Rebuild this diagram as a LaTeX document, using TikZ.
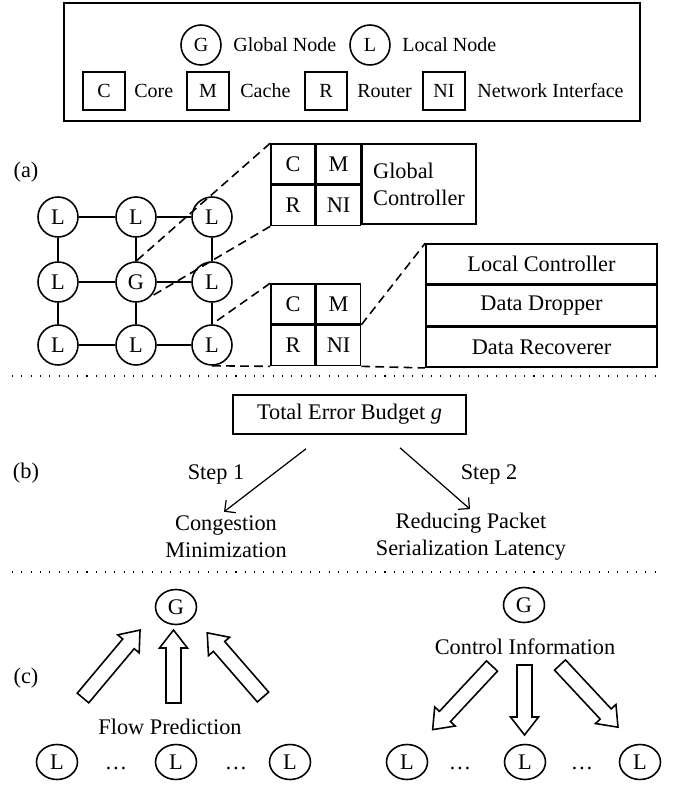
\documentclass[tikz,border=0pt]{standalone}
\usepackage{fontspec}
\setmainfont{Liberation Serif}
\usetikzlibrary{arrows.meta, calc, shapes.geometric}

\tikzset{
    nd/.style={draw, line width=0.9pt, circle, minimum size=0.8cm, inner sep=0pt},
    fnd/.style={draw, line width=0.9pt, ellipse, minimum width=0.82cm, minimum height=0.7cm, inner sep=0pt},
    cell/.style={draw, line width=0.9pt, minimum width=0.88cm, minimum height=0.8cm, inner sep=0pt},
    lgcell/.style={draw, line width=0.9pt, minimum width=0.84cm, minimum height=0.76cm, inner sep=0pt},
    stk/.style={draw, line width=0.9pt, minimum width=4.62cm, minimum height=0.8cm, inner sep=0pt},
    lbl/.style={anchor=west, inner sep=0pt},
    lgfont/.style={font=\fontsize{11.4}{13.7}\selectfont},
    zoomline/.style={line width=0.9pt, dash pattern=on 5pt off 3pt},
    sepline/.style={line width=0.8pt, dash pattern=on 0.6pt off 4.7pt},
    steparr/.style={line width=0.7pt, -{Straight Barb[length=4.5pt, width=9pt]}},
    pics/fatarrow/.style={code={
        \draw[line width=0.9pt] (0,-7.5) -- (#1-18,-7.5) -- (#1-18,-14) -- (#1,0)
            -- (#1-18,14) -- (#1-18,7.5) -- (0,7.5) -- cycle;
    }},
}

\begin{document}
\begin{tikzpicture}[x=0.02cm, y=-0.02cm, font=\fontsize{12.7}{15.4}\selectfont]
    \useasboundingbox (0,0) rectangle (673,790);

    % legend
    \draw[line width=0.9pt] (64,3) rectangle (640,121);
    \begin{scope}[every node/.append style={lgfont}]
        \node[nd] (lgG) at (201,45) {G};
        \node[lbl] (lgGt) at (233,45) {Global Node};
        \node[nd] (lgL) at (370,45) {L};
        \node[lbl] (lgLt) at (402,45) {Local Node};
        \node[lgcell] (lgC) at (104,91) {C};
        \node[lbl] (lgCt) at (134,91) {Core};
        \node[lgcell] (lgM) at (208,91) {M};
        \node[lbl] (lgMt) at (240,91) {Cache};
        \node[lgcell] (lgR) at (326,91) {R};
        \node[lbl] (lgRt) at (357,91) {Router};
        \node[lgcell] (lgNI) at (444,91) {NI};
        \node[lbl] (lgNIt) at (477,91) {Network Interface};
    \end{scope}

    % (a) mesh
    \node (labA) at (26,172) {(a)};
    \foreach \n/\x/\y/\t in {11/58/217/L, 12/136/217/L, 13/212/217/L,
                             21/58/282/L, 22/136/282/G, 23/212/282/L,
                             31/58/345/L, 32/136/345/L, 33/212/345/L}
        \node[nd] (n\n) at (\x,\y) {\t};
    \foreach \a/\b in {11/12, 12/13, 21/22, 22/23, 31/32, 32/33,
                       11/21, 21/31, 12/22, 22/32, 13/23, 23/33}
        \draw[line width=0.9pt] (n\a) -- (n\b);

    % global node tile
    \node[cell] (gC) at (293,164) {C};
    \node[cell, anchor=north west] (gM) at (gC.north east) {M};
    \node[cell, anchor=north west] (gR) at (gC.south west) {R};
    \node[cell, anchor=north west] (gNI) at (gR.north east) {NI};
    \node[cell, anchor=north west, minimum width=2.28cm, minimum height=1.6cm, text width=1.84cm, align=left] (gCtl) at (gM.north east) {Global\\Controller};

    % local node tile
    \node[cell] (lC) at (293,304) {C};
    \node[cell, anchor=north west] (lM) at (lC.north east) {M};
    \node[cell, anchor=north west] (lR) at (lC.south west) {R};
    \node[cell, anchor=north west] (lNI) at (lR.north east) {NI};

    \node[stk] (lctl) at (541.5,264) {Local Controller};
    \node[stk, anchor=north] (drop) at (lctl.south) {Data Dropper};
    \node[stk, anchor=north] (recv) at (drop.south) {Data Recoverer};

    \draw[zoomline] (gC.north west) -- (n22.north);
    \draw[zoomline] (gR.south west) -- (n22.south east);
    \draw[zoomline] (lC.north west) -- (n33.north);
    \draw[zoomline] (n33.south) -- (lR.south west);
    \draw[zoomline] (lM.south east) -- (lctl.north west);
    \draw[zoomline] (lNI.south east) -- (recv.south west);

    \draw[sepline] (12,376) -- (658,376);

    % (b) error budget
    \node (labB) at (26,473) {(b)};
    \node[draw, line width=0.9pt, minimum width=4.66cm, minimum height=0.78cm] (budget) at (349.5,414.5) {Total Error Budget \textit{g}};
    \node[align=center] (cong) at (226,537) {Congestion\\Minimization};
    \node[align=center] (serl) at (471,537) {Reducing Packet\\Serialization Latency};
    \node (st1) at (216,474) {Step 1};
    \node (st2) at (489,474) {Step 2};
    \draw[steparr] ($(budget.south)+(-43.5,14)$) -- ($(cong.north)+(-2,2)$);
    \draw[steparr] ($(budget.south)+(50.5,13)$) -- ($(serl.north)+(-1,2)$);

    \draw[sepline] (12,572) -- (658,572);

    % (c) prediction and control
    \node (labC) at (26,678) {(c)};
    \node[fnd] (cg1) at (176,607) {G};
    \node[fnd] (cl11) at (57,762) {L};
    \node[fnd] (cl12) at (176,762) {L};
    \node[fnd] (cl13) at (290,762) {L};
    \node[anchor=base] (cd11) at (116,769) {\ldots};
    \node[anchor=base] (cd12) at (236,769) {\ldots};
    \node (flow) at (170,727) {Flow Prediction};
    \pic[rotate=50] at (83,698) {fatarrow=88.7};
    \pic[rotate=90] at (173.5,703) {fatarrow=73};
    \pic[rotate=131] at (263,697) {fatarrow=85};

    \node[fnd] (cg2) at (524,605) {G};
    \node[fnd] (cl21) at (407,762) {L};
    \node[fnd] (cl22) at (525,762) {L};
    \node[fnd] (cl23) at (640,762) {L};
    \node[anchor=base] (cd21) at (460,769) {\ldots};
    \node[anchor=base] (cd22) at (582,769) {\ldots};
    \node (ctrl) at (525,647) {Control Information};
    \pic[rotate=227] at (492,666) {fatarrow=87};
    \pic[rotate=270] at (524.5,665) {fatarrow=70};
    \pic[rotate=-47] at (560,665) {fatarrow=85};
\end{tikzpicture}
\end{document}
